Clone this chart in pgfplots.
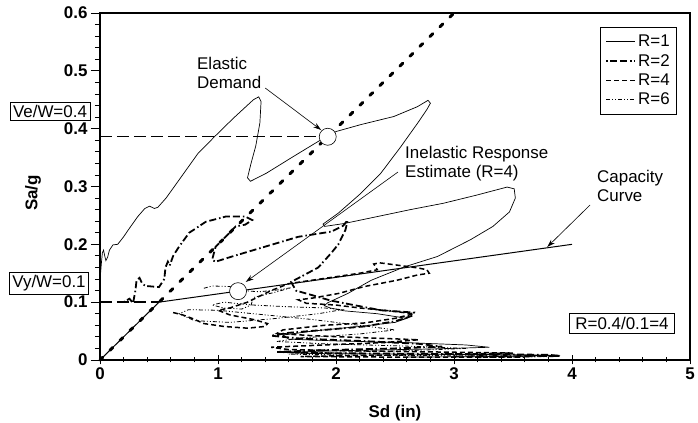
\documentclass[border=0pt]{standalone}
\usepackage{fontspec}
\setmainfont{Liberation Sans}
\usepackage{pgfplots}
\pgfplotsset{compat=1.18}
\usetikzlibrary{arrows.meta}
\newcommand{\fs}{\fontsize{17}{19}\selectfont}
\begin{document}
\begin{tikzpicture}
\begin{axis}[
 scale only axis, width=590bp, height=347bp,
 xmin=0, xmax=5, ymin=0, ymax=0.6,
 xtick={0,1,2,3,4,5}, ytick={0,0.1,0.2,0.3,0.4,0.5,0.6},
 minor x tick num=4, minor y tick num=4,
 tick pos=left,
 xtick align=center, ytick align=outside,
 major tick length=9bp, minor tick length=5bp,
 axis line style={line width=1.3bp},
 tick style={line width=0.8bp, black},
 /pgf/number format/assume math mode=true,
 yticklabel style={/pgf/number format/fixed, /pgf/number format/precision=1, font=\fs\bfseries},
 xticklabel style={font=\fs\bfseries},
 xlabel={Sd (in)}, ylabel={Sa/g},
 label style={font=\fs\bfseries},
 xlabel style={at={(axis description cs:0.5,-0.153)}, anchor=center},
 ylabel style={at={(axis description cs:-0.1136,0.481)}, anchor=center},
 clip=false,
 legend style={at={(0.9780,0.9597)}, anchor=north east, draw=black, line width=0.6bp, font=\fs, row sep=2bp, inner xsep=5bp, inner ysep=6bp, cells={anchor=east}},
 legend image code/.code={\draw[#1] (0bp,0bp) -- (29bp,0bp);},
]
% R=1
\addplot[black, line width=0.7bp] coordinates {
(0.005,0.150) (0.012,0.168) (0.02,0.185) (0.03,0.19) (0.04,0.18) (0.05,0.172) (0.065,0.178) (0.08,0.19) (0.11,0.199) (0.15,0.2) (0.2,0.213) (0.24,0.225) (0.32,0.248) (0.38,0.262) (0.42,0.266) (0.46,0.262) (0.49,0.264) (0.56,0.28) (0.69,0.317) (0.83,0.357) (0.97,0.386) (1.13,0.418) (1.30,0.45) (1.345,0.455) (1.365,0.447) (1.355,0.41) (1.32,0.37) (1.28,0.34) (1.25,0.315) (1.275,0.309) (1.41,0.323) (1.64,0.352) (1.85,0.378) (2.0,0.395) (2.21,0.407) (2.49,0.421) (2.69,0.438) (2.78,0.449) (2.80,0.444) (2.77,0.433) (2.69,0.409) (2.55,0.369) (2.38,0.323) (2.21,0.288) (2.02,0.254) (1.89,0.235) (1.905,0.231) (2.07,0.236) (2.35,0.248) (2.63,0.26) (2.91,0.271) (3.19,0.285) (3.45,0.299) (3.51,0.296) (3.52,0.28) (3.47,0.256) (3.33,0.231) (3.14,0.208) (2.86,0.179) (2.58,0.161) (2.30,0.138) (2.10,0.115) (1.93,0.099) (1.90,0.094) (1.95,0.09) (2.07,0.085) (2.35,0.08) (2.6,0.072) (2.5,0.065) (2.2,0.058) (1.8,0.05) (1.55,0.043) (1.6,0.036) (2.0,0.033) (2.6,0.03) (3.1,0.026) (3.3,0.022) (2.8,0.019) (2.0,0.016) (1.55,0.013) (1.9,0.011) (2.8,0.010) (3.6,0.009) (3.9,0.008) (3.4,0.006) (2.6,0.005)
};
\addlegendentry{R=1}
% R=2
\addplot[black, line width=1.8bp, dash pattern=on 1.5bp off 2.5bp on 7bp off 3bp on 7bp off 3bp] coordinates {
(0.2,0.1) (0.25,0.106) (0.28,0.098) (0.3,0.12) (0.31,0.138) (0.335,0.142) (0.36,0.131) (0.39,0.128) (0.5,0.126) (0.545,0.14) (0.555,0.16) (0.575,0.17) (0.59,0.163) (0.62,0.18) (0.67,0.196) (0.756,0.22) (0.897,0.239) (1.065,0.248) (1.23,0.248) (1.29,0.242) (1.23,0.234) (1.15,0.231) (1.065,0.213) (0.98,0.196) (0.95,0.173) (0.98,0.170) (1.12,0.179) (1.40,0.196) (1.68,0.213) (1.96,0.222) (2.06,0.232) (2.10,0.242) (2.08,0.225) (2.02,0.2) (1.96,0.185) (1.85,0.16) (1.74,0.148) (1.62,0.135) (1.66,0.12) (1.8,0.112) (1.95,0.103) (2.15,0.095) (2.38,0.086) (2.66,0.082) (2.64,0.076) (2.5,0.067) (2.24,0.058) (1.9,0.052) (1.6,0.047) (1.45,0.042) (1.7,0.037) (2.2,0.033) (2.7,0.028) (2.9,0.023) (2.5,0.02) (1.9,0.017) (1.5,0.014) (1.8,0.012) (2.5,0.011) (3.2,0.01) (3.8,0.009) (3.9,0.007) (3.0,0.006)
};
\addlegendentry{R=2}
% R=4
\addplot[black, line width=1.5bp, dash pattern=on 5bp off 3bp] coordinates {
(0.62,0.082) (0.7,0.078) (0.78,0.072) (0.88,0.063) (1.05,0.058) (1.25,0.055) (1.4,0.058) (1.42,0.063) (1.3,0.07) (1.1,0.078) (1.0,0.086) (1.1,0.09) (1.25,0.1) (1.45,0.12) (1.6,0.132) (1.9,0.141) (2.2,0.15) (2.35,0.156) (2.32,0.166) (2.37,0.168) (2.52,0.164) (2.7,0.159) (2.77,0.156) (2.79,0.15) (2.69,0.147) (2.52,0.138) (2.24,0.127) (2.02,0.115) (1.8,0.107) (1.68,0.104) (1.75,0.098) (2.0,0.095) (2.2,0.09) (2.45,0.085) (2.66,0.08) (2.5,0.072) (2.24,0.064) (1.9,0.06) (1.55,0.052) (1.5,0.046) (1.8,0.042) (2.3,0.038) (2.7,0.035) (2.4,0.03) (1.9,0.026) (1.45,0.022) (1.6,0.018) (2.1,0.016) (2.8,0.014) (3.5,0.012) (3.0,0.01) (2.2,0.008) (1.7,0.006) (2.5,0.005) (3.6,0.005)
};
\addlegendentry{R=4}
% R=6
\addplot[black, line width=0.8bp, dash pattern=on 4bp off 2bp on 1bp off 2bp on 1bp off 2bp] coordinates {
(0.88,0.124) (0.95,0.128) (1.1,0.127) (1.2,0.12) (1.35,0.118) (1.5,0.121) (1.62,0.125) (1.5,0.118) (1.3,0.108) (1.28,0.095) (1.2,0.088) (1.05,0.09) (0.95,0.095) (1.05,0.1) (1.3,0.095) (1.6,0.092) (1.9,0.09) (2.05,0.087) (1.85,0.08) (1.5,0.072) (1.1,0.065) (0.8,0.068) (0.67,0.08) (0.75,0.087) (1.0,0.086) (1.4,0.078) (1.8,0.07) (2.2,0.06) (2.5,0.052) (2.2,0.045) (1.7,0.038) (1.5,0.032) (1.9,0.028) (2.6,0.024) (3.1,0.02) (2.6,0.016) (1.9,0.013) (1.6,0.01) (2.4,0.008) (3.4,0.007) (3.9,0.006) (3.2,0.004)
};
\addlegendentry{R=6}
% horizontal dashed references
\addplot[forget plot, black, line width=0.8bp, dash pattern=on 12bp off 5bp] coordinates {(0,0.386) (1.93,0.386)};
\addplot[forget plot, black, line width=1.5bp, dash pattern=on 12bp off 5bp] coordinates {(0,0.1) (0.5,0.1)};
% elastic demand line
\addplot[forget plot, black, line width=3bp, line cap=round, dash pattern=on 4bp off 10bp] coordinates {(0,0) (3.0,0.6)};
% capacity curve
\addplot[forget plot, black, line width=1bp] coordinates {(0,0) (0.5,0.1) (4.0,0.2)};
% circles
\addplot[forget plot, only marks, mark=*, mark size=8.5bp, mark options={fill=white, draw=black, line width=0.6bp, solid}] coordinates {(1.93,0.386) (1.17,0.119)};
% annotations
\node[draw, line width=0.6bp, inner sep=3bp, font=\fs] at (axis cs:-0.424,0.4297) {Ve/W=0.4};
\node[draw, line width=0.6bp, inner sep=3bp, font=\fs] at (axis cs:-0.432,0.1323) {Vy/W=0.1};
\node[draw, line width=0.6bp, inner xsep=6bp, inner ysep=4bp, font=\fs] at (axis cs:4.424,0.0631) {R=0.4/0.1=4};
\node[align=left, anchor=west, font=\fs, inner sep=0pt] at (axis cs:0.822,0.497) {Elastic\\Demand};
\node[align=left, anchor=west, font=\fs, inner sep=0pt] at (axis cs:2.585,0.339) {Inelastic Response\\Estimate (R=4)};
\node[align=left, anchor=west, font=\fs, inner sep=0pt] at (axis cs:4.212,0.301) {Capacity\\Curve};
\draw[line width=0.6bp, -{Stealth[length=8bp,width=5bp]}] (axis cs:1.40,0.4703) -- (axis cs:1.874,0.3977);
\draw[line width=0.6bp, -{Stealth[length=8bp,width=5bp]}] (axis cs:2.525,0.325) -- (axis cs:1.235,0.1349);
\draw[line width=0.6bp, -{Stealth[length=8bp,width=5bp]}] (axis cs:4.153,0.268) -- (axis cs:3.79,0.1954);
\end{axis}
\pgfresetboundingbox
\path[use as bounding box] ([xshift=-100bp,yshift=-63bp]current axis.south west) rectangle ([xshift=8bp,yshift=13bp]current axis.north east);
\end{tikzpicture}
\end{document}
